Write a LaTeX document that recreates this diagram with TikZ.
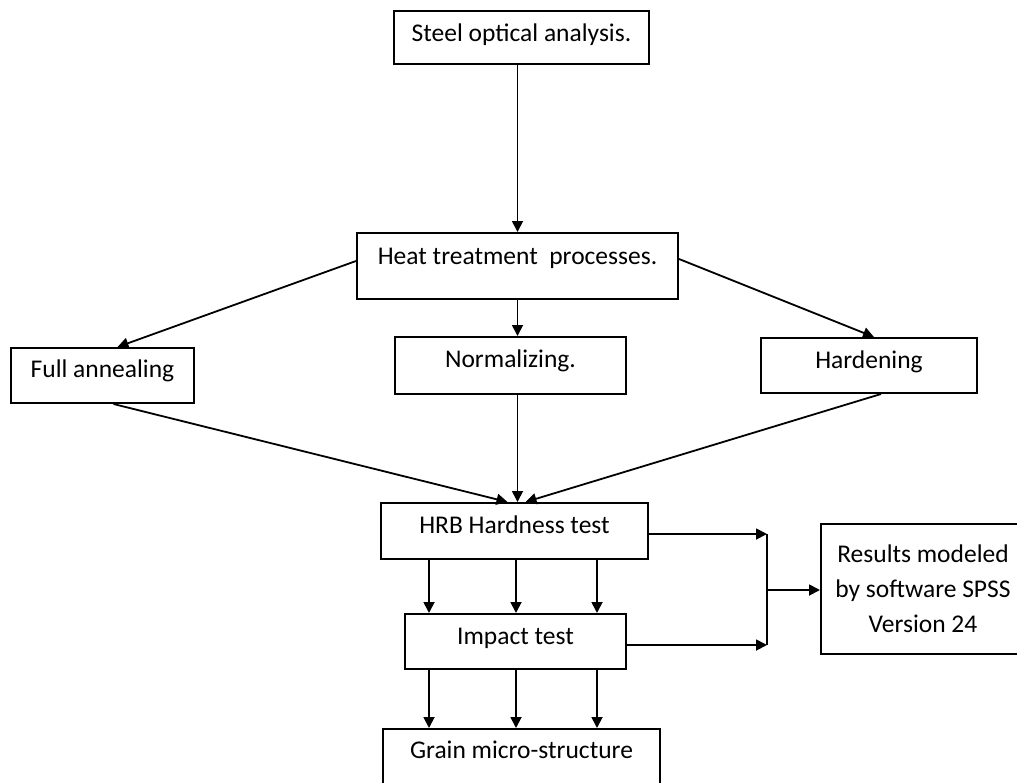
\documentclass[tikz,border=0pt]{standalone}
\usepackage{fontspec}
\setmainfont{Carlito}
\usetikzlibrary{arrows.meta,calc}
\begin{document}
\begin{tikzpicture}[x=1pt,y=-1pt,
  box/.style={draw, line width=2pt, inner sep=0pt, align=center,
    font=\fontsize{25.5}{35}\selectfont, anchor=north west},
  conn/.style={line width=1.8pt, -{Triangle[length=11pt,width=11pt]}},
  plain/.style={line width=1.8pt}]
\useasboundingbox (0,0) rectangle (1017,782);

\node[box, minimum width=255pt, text height=30pt, text depth=23pt] (steel) at (393,10) {Steel optical analysis.};
\node[box, minimum width=321pt, text height=31pt, text depth=35pt] (heat) at (356,232) {Heat treatment\ \ processes.};
\node[box, minimum width=183pt, text height=29pt, text depth=26pt] (fa) at (10,347) {Full annealing};
\node[box, minimum width=231pt, text height=30pt, text depth=27pt] (norm) at (394,336) {Normalizing.};
\node[box, minimum width=216pt, text height=30pt, text depth=25pt] (hard) at (760,337) {Hardening};
\node[box, minimum width=267pt, text height=30pt, text depth=26pt] (hrb) at (380,502) {HRB Hardness test};
\node[box, minimum width=221pt, text height=30pt, text depth=25pt] (imp) at (404,613) {Impact test};
\node[box, minimum width=277pt, text height=29pt, text depth=70pt] (grain) at (382,728) {Grain micro-structure};
\node[box, minimum width=204pt, minimum height=130pt] (res) at (820,523) {Results modeled\\by software SPSS\\Version 24};

\draw[conn] (steel.south -| heat.north) -- (heat.north);
\draw[conn] (heat.south) -- (heat.south |- norm.north);
\draw[conn] (norm.south -| heat.south) -- (hrb.north -| heat.south);
\draw[conn] ([yshift=5pt]heat.west) -- ([xshift=15pt]fa.north);
\draw[conn] ([yshift=7pt]heat.east) -- ([xshift=5pt]hard.north);
\draw[conn] ([xshift=11pt]fa.south) -- ([xshift=-7pt]hrb.north);
\draw[conn] ([xshift=12pt]hard.south) -- ([xshift=11pt]hrb.north);

\foreach \i/\x in {1/429,2/516,3/597}{
  \coordinate (c\i) at (\x,0);
  \draw[conn] (hrb.south -| c\i) -- (imp.north -| c\i);
  \draw[conn] (imp.south -| c\i) -- (grain.north -| c\i);
}

\coordinate (jt) at (767,534);
\coordinate (jb) at (767,645);
\coordinate (jm) at (767,590);
\draw[conn] (hrb.east |- jt) -- (jt);
\draw[conn] (imp.east |- jb) -- (jb);
\draw[plain] (jt) -- (jb);
\draw[conn] (jm) -- (res.west |- jm);
\end{tikzpicture}
\end{document}
